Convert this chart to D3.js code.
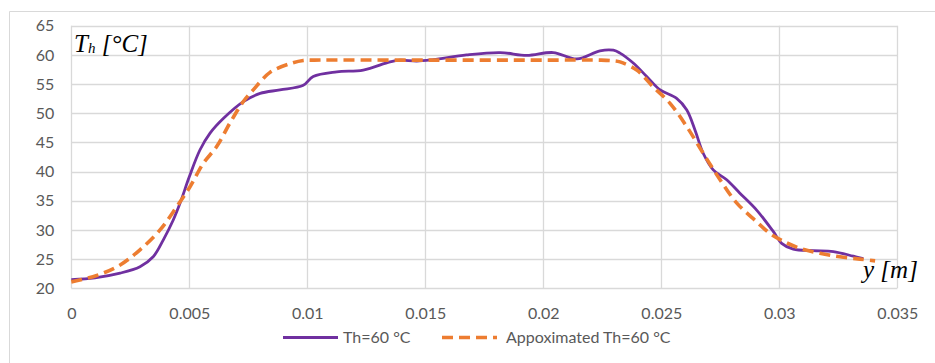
<!DOCTYPE html>
<html><head><meta charset="utf-8">
<script src="https://cdn.jsdelivr.net/npm/d3@7"></script>
<style>body{margin:0;background:#fff}</style></head>
<body><svg id="c" width="935" height="363"></svg>
<script>
const xTicks=[0,0.005,0.01,0.015,0.02,0.025,0.03,0.035];
const xTickLabels=["0","0.005","0.01","0.015","0.02","0.025","0.03","0.035"];
const yTicks=[20,25,30,35,40,45,50,55,60,65];
const measuredX=[0,0.001,0.00207,0.00291,0.00347,0.0039,0.00432,0.00461,0.005,0.00545,0.00588,0.00644,0.00729,0.008,0.00884,0.00983,0.01025,0.01125,0.01237,0.0135,0.01393,0.01464,0.01534,0.01675,0.01817,0.0193,0.02042,0.02142,0.0224,0.02297,0.02325,0.02381,0.02438,0.02495,0.02565,0.02608,0.02643,0.02678,0.0272,0.02777,0.02833,0.02904,0.02975,0.0301,0.03059,0.03144,0.03229,0.03314,0.03356];
const measuredY=[21.5,21.8,22.6,23.7,25.4,28.3,31.7,34.6,39.1,43.7,46.6,49.1,52.0,53.4,54.0,54.8,56.3,57.1,57.4,58.8,59.1,58.95,59.2,60.0,60.4,59.9,60.4,59.3,60.7,60.8,60.3,58.6,56.3,54.0,52.55,50.55,47.1,43.1,40.3,38.6,36.3,33.4,29.7,27.7,26.7,26.45,26.3,25.5,25.1];
const approxX=[0,0.00108,0.00207,0.00291,0.00376,0.00447,0.00503,0.00559,0.00616,0.00672,0.00729,0.00771,0.00842,0.00927,0.00983,0.0103,0.015,0.02,0.0224,0.02296,0.02325,0.02396,0.02466,0.02537,0.02608,0.02678,0.02749,0.0282,0.02904,0.0296,0.0301,0.03088,0.03172,0.03257,0.03342,0.03406];
const approxY=[21.1,22.2,24.0,26.6,30.0,34.0,37.4,41.4,44.3,48.3,52.0,54.0,57.0,58.5,59.05,59.1,59.1,59.1,59.1,59.0,58.8,57.4,54.5,51.7,47.7,43.1,38.6,34.6,31.4,29.4,28.2,26.85,26.0,25.4,25.0,24.7];
const seriesNames=["Th=60 °C","Appoximated Th=60 °C"];
const colors=["#7030A0","#ED7D31"];

const svg=d3.select("#c");
const x=d3.scaleLinear().domain([0,0.035]).range([71.3,897.3]);
const y=d3.scaleLinear().domain([20,65]).range([288.3,25.7]);
const font="Lato, 'Open Sans', sans-serif";

// outer frame
svg.append("path").attr("d","M9.5,363V11.5H935").attr("fill","none").attr("stroke","#d9d9d9");

// grid
const g=svg.append("g");
g.selectAll(".gx").data(xTicks).join("line")
 .attr("x1",d=>Math.round(x(d))+0.5).attr("x2",d=>Math.round(x(d))+0.5)
 .attr("y1",y(65)).attr("y2",y(20)).attr("stroke","#d9d9d9").attr("stroke-width",1.3);
g.selectAll(".gy").data(yTicks).join("line")
 .attr("y1",d=>Math.round(y(d))+0.5).attr("y2",d=>Math.round(y(d))+0.5)
 .attr("x1",x(0)).attr("x2",x(0.035)).attr("stroke","#d9d9d9").attr("stroke-width",1.3);

// axes labels via d3 axes
const xa=svg.append("g").attr("transform",`translate(0,${y(20)})`)
 .call(d3.axisBottom(x).tickValues(xTicks).tickFormat((d,i)=>xTickLabels[i]).tickSize(0).tickPadding(19));
xa.select(".domain").remove();
xa.selectAll("text").attr("font-family",font).attr("font-size",16).attr("fill","#595959");
const ya=svg.append("g").attr("transform",`translate(${x(0)},0)`)
 .call(d3.axisLeft(y).tickValues(yTicks).tickSize(0).tickPadding(17));
ya.select(".domain").remove();
ya.selectAll("text").attr("font-family",font).attr("font-size",16).attr("fill","#595959");

// lines
const line=d3.line().x(d=>x(d[0])).y(d=>y(d[1])).curve(d3.curveCatmullRom.alpha(0.5));
svg.append("path").datum(measuredX.map((v,i)=>[v,measuredY[i]]))
 .attr("d",line).attr("fill","none").attr("stroke",colors[0]).attr("stroke-width",2.8);
svg.append("path").datum(approxX.map((v,i)=>[v,approxY[i]]))
 .attr("d",line).attr("fill","none").attr("stroke",colors[1]).attr("stroke-width",3.6)
 .attr("stroke-dasharray","11,6");

// axis titles
const tt=svg.append("text").attr("x",74).attr("y",52).attr("font-family","'Liberation Serif', serif")
 .attr("font-style","italic").attr("font-size",25).attr("fill","#000");
tt.append("tspan").text("T");
tt.append("tspan").attr("font-size",15).attr("dy",1).text("h");
tt.append("tspan").attr("dy",-1).text(" [°C]");
svg.append("text").attr("x",863).attr("y",278).attr("font-family","'Liberation Serif', serif")
 .attr("font-style","italic").attr("font-size",25).text("y [m]");

// legend
const ly=337.5;
svg.append("line").attr("x1",283).attr("x2",338).attr("y1",ly).attr("y2",ly).attr("stroke",colors[0]).attr("stroke-width",2.8);
svg.append("text").attr("x",343).attr("y",ly+5.8).attr("font-family",font).attr("font-size",16).attr("fill","#595959").text(seriesNames[0]);
svg.append("line").attr("x1",442).attr("x2",497).attr("y1",ly).attr("y2",ly).attr("stroke",colors[1]).attr("stroke-width",3.6).attr("stroke-dasharray","11,6");
svg.append("text").attr("x",506).attr("y",ly+5.8).attr("font-family",font).attr("font-size",16).attr("fill","#595959").text(seriesNames[1]);
</script></body></html>
